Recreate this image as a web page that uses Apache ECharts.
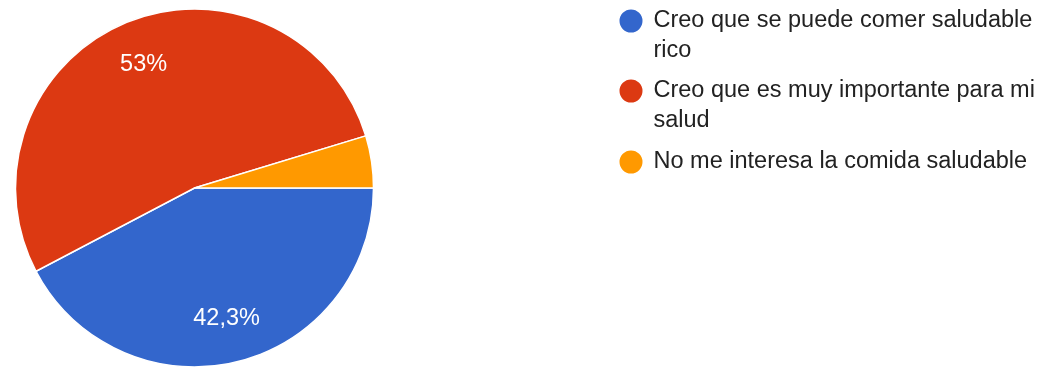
<!DOCTYPE html>
<html>
<head>
<meta charset="utf-8">
<style>
  html, body { margin: 0; padding: 0; background: #ffffff; }
  #chart { width: 1044px; height: 369px; }
</style>
<script src="https://cdn.jsdelivr.net/npm/echarts@6/dist/echarts.min.js"></script>
</head>
<body>
<div id="chart"></div>
<script>
// Survey answers and their shares (%)
const categories = [
  'Creo que se puede comer saludable rico',
  'Creo que es muy importante para mi salud',
  'No me interesa la comida saludable'
];
const shares = [42.3, 53, 4.7];
const colors = ['#3366cc', '#dc3912', '#ff9900'];

const FONT = 'Arial, "Liberation Sans", sans-serif';
const CENTER = [194.5, 188];
const R = 179;

const pieData = categories.map((name, i) => ({
  name: name,
  value: shares[i],
  itemStyle: { color: colors[i] }
}));

// Percent text, decimal comma; small slices stay unlabeled
function pctLabel(p) {
  if (p.value < 5) return '';
  return String(p.value).replace('.', ',') + '%';
}

// One legend block per answer; a leading blank line keeps the marker
// level with the first line of a two-line wrapped text
const legendTops = [-24, 46, 147];
const legendLines = [2, 2, 1];
const legends = categories.map((name, i) => ({
  data: [name],
  orient: 'vertical',
  left: 617.5,
  top: legendTops[i],
  padding: 0,
  icon: 'circle',
  itemWidth: 25,
  itemHeight: 25,
  selectedMode: false,
  formatter: n => (legendLines[i] > 1 ? '\n' : '') + n,
  textStyle: {
    fontFamily: FONT,
    fontSize: 23.5,
    color: '#222222',
    lineHeight: 30,
    width: 392,
    overflow: 'break',
    padding: [0, 0, 0, 5]
  }
}));

const chart = echarts.init(document.getElementById('chart'), null, { renderer: 'canvas' });
chart.setOption({
  backgroundColor: '#ffffff',
  animation: false,
  legend: legends,
  series: [
    {
      type: 'pie',
      center: CENTER,
      radius: [0, R],
      startAngle: 0,
      clockwise: true,
      silent: true,
      label: { show: false },
      labelLine: { show: false },
      itemStyle: { borderColor: '#ffffff', borderWidth: 1.5 },
      data: pieData
    },
    {
      // transparent ring that carries the percentage labels
      type: 'pie',
      center: CENTER,
      radius: [83, R],
      startAngle: 0,
      clockwise: true,
      silent: true,
      itemStyle: { color: 'rgba(0,0,0,0)', borderWidth: 0 },
      label: {
        show: true,
        position: 'inside',
        formatter: pctLabel,
        color: '#ffffff',
        fontFamily: FONT,
        fontSize: 23.5
      },
      labelLine: { show: false },
      data: categories.map((name, i) => ({ name: name, value: shares[i] }))
    }
  ]
});
</script>
</body>
</html>
